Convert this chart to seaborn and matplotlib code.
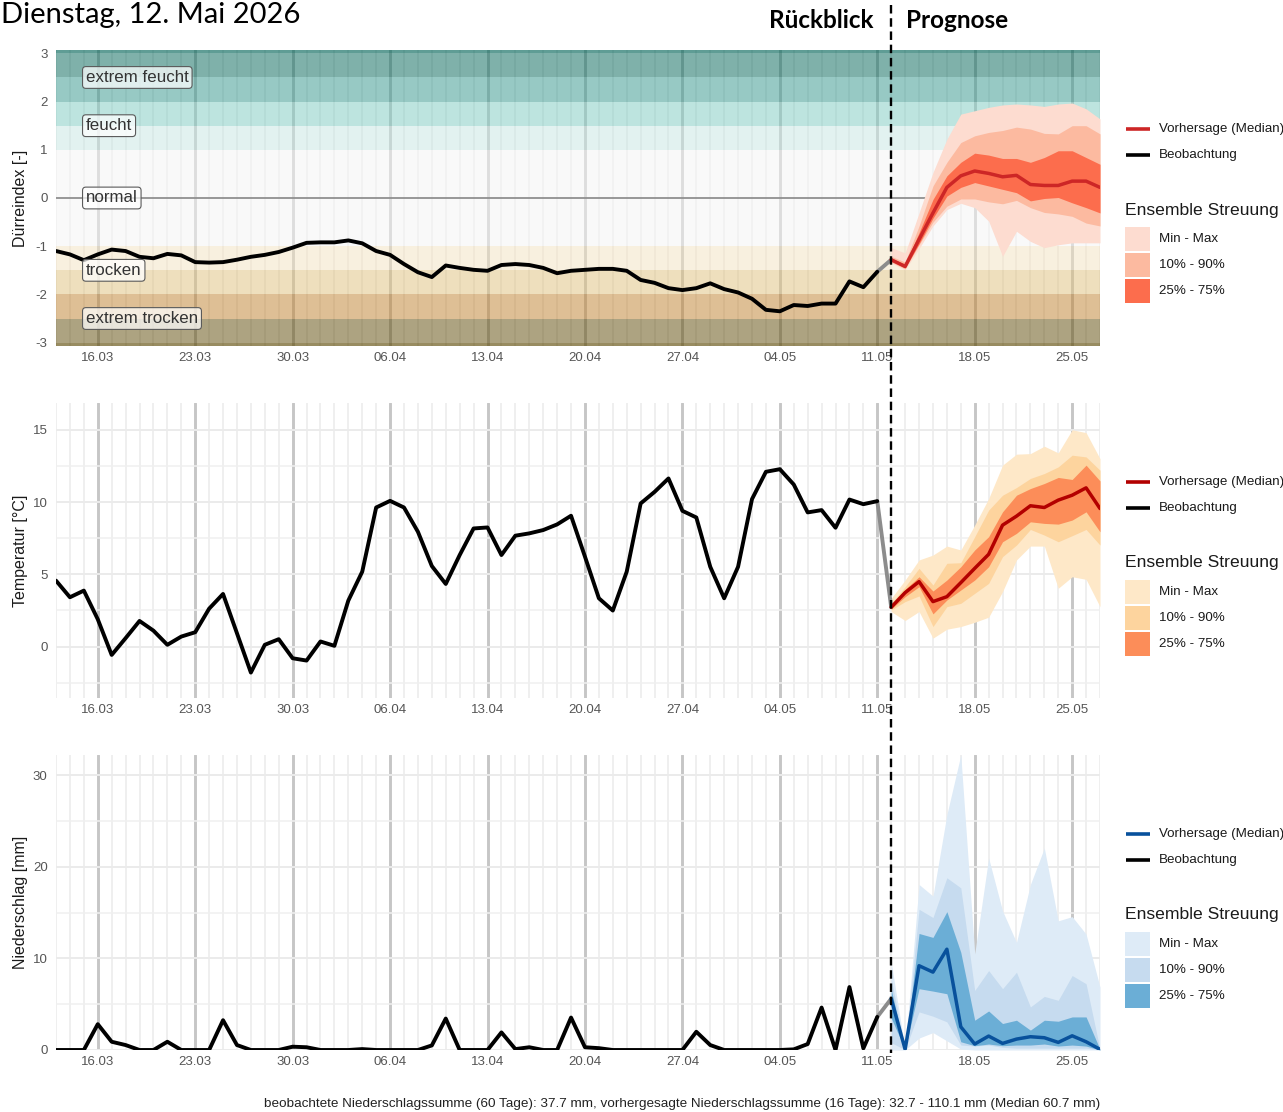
import numpy as np
import pandas as pd
import matplotlib
matplotlib.use("Agg")
import matplotlib.pyplot as plt
import matplotlib.dates as mdates
from matplotlib.lines import Line2D
from matplotlib.patches import Rectangle
import seaborn as sns

# ---------------- data ----------------
obs_dates = pd.date_range("2026-03-13", "2026-05-11", freq="D")
fc_dates = pd.date_range("2026-05-12", "2026-05-27", freq="D")
week_ticks = pd.date_range("2026-03-16", "2026-05-25", freq="7D")

drought_obs = [-1.10, -1.17, -1.29, -1.17, -1.07, -1.10, -1.22, -1.25, -1.16, -1.19,
               -1.33, -1.34, -1.33, -1.28, -1.22, -1.18, -1.12, -1.03, -0.93,
               -0.92, -0.92, -0.88, -0.94, -1.10, -1.18, -1.37, -1.54, -1.64, -1.40,
               -1.45, -1.49, -1.51, -1.39, -1.37, -1.39, -1.45, -1.56, -1.51, -1.49,
               -1.47, -1.47, -1.51, -1.70, -1.76, -1.87, -1.91, -1.87, -1.77, -1.89,
               -1.96, -2.09, -2.32, -2.35, -2.22, -2.24, -2.19, -2.19, -1.73, -1.85, -1.53]
drought_med = [-1.28, -1.42, -0.86, -0.31, 0.22, 0.46, 0.56, 0.51, 0.44, 0.47, 0.28, 0.26, 0.26, 0.35, 0.35, 0.22]
drought_min = [-1.35, -1.49, -1.05, -0.58, -0.24, -0.11, -0.20, -0.48, -1.21, -0.69, -0.90, -1.03, -0.97, -0.93, -0.93, -0.93]
drought_max = [-1.03, -1.14, -0.31, 0.53, 1.22, 1.74, 1.81, 1.88, 1.93, 1.95, 1.93, 1.90, 1.95, 1.97, 1.85, 1.64]
drought_q10 = [-1.33, -1.47, -0.97, -0.50, -0.17, -0.02, -0.02, -0.08, -0.12, -0.05, -0.20, -0.30, -0.33, -0.38, -0.52, -0.58]
drought_q90 = [-1.21, -1.33, -0.58, 0.25, 0.74, 1.15, 1.29, 1.36, 1.40, 1.47, 1.43, 1.34, 1.33, 1.50, 1.50, 1.33]
drought_q25 = [-1.31, -1.45, -0.95, -0.42, 0.04, 0.22, 0.32, 0.25, 0.18, 0.11, -0.06, -0.01, 0.01, -0.10, -0.20, -0.31]
drought_q75 = [-1.25, -1.37, -0.72, -0.03, 0.46, 0.74, 0.93, 0.89, 0.82, 0.82, 0.74, 0.84, 0.98, 0.98, 0.84, 0.70]

temp_obs = [4.56, 3.41, 3.87, 1.89, -0.58, 0.58, 1.77, 1.10, 0.12, 0.69, 0.99, 2.62, 3.64, 0.92,
            -1.80, 0.12, 0.51, -0.81, -0.97,
            0.35, 0.05, 3.18, 5.18, 9.62, 10.08, 9.62, 7.94, 5.57, 4.33, 6.33, 8.17, 8.24, 6.33,
            7.67, 7.83, 8.06, 8.45, 9.05, 6.22, 3.34, 2.49, 5.18, 9.90, 10.70, 11.63, 9.39, 8.93,
            5.52, 3.34,
            5.52, 10.20, 12.09, 12.27, 11.21, 9.28, 9.44, 8.22, 10.17, 9.85, 10.06]
temp_med = [2.72, 3.73, 4.49, 3.11, 3.45, 4.42, 5.41, 6.38, 8.40, 9.02, 9.74, 9.62, 10.13, 10.47, 10.98, 9.55]
temp_min = [2.42, 1.80, 2.42, 0.58, 1.20, 1.38, 1.68, 2.03, 3.80, 5.99, 6.95, 6.95, 4.03, 4.83, 4.65, 2.76]
temp_max = [3.34, 4.60, 5.99, 6.33, 6.95, 6.68, 8.40, 10.24, 12.55, 13.31, 13.35, 13.86, 13.40, 15.00, 14.80, 13.00]
temp_q10 = [2.53, 3.11, 3.50, 1.38, 2.76, 2.99, 3.68, 4.37, 6.22, 7.02, 8.10, 7.71, 7.25, 7.67, 8.10, 7.02]
temp_q90 = [2.99, 4.14, 5.41, 4.26, 5.76, 5.80, 7.60, 9.44, 10.47, 11.00, 11.63, 11.97, 12.43, 13.24, 13.12, 12.20]
temp_q25 = [2.60, 3.45, 4.14, 2.26, 3.22, 3.91, 4.60, 5.52, 7.25, 7.83, 8.63, 8.52, 8.47, 8.75, 9.32, 7.94]
temp_q75 = [2.85, 3.96, 4.83, 3.84, 4.60, 5.52, 6.68, 7.60, 9.32, 10.47, 10.93, 11.28, 11.70, 11.56, 12.55, 11.46]

prec_obs = [0, 0, 0, 2.82, 0.9, 0.54, 0, 0, 0.9, 0, 0, 0, 3.25, 0.54, 0, 0, 0, 0.36, 0.3,
            0, 0, 0, 0.1, 0, 0, 0, 0, 0.5, 3.43, 0, 0, 0, 1.92, 0.1, 0.3, 0, 0, 3.54, 0.3,
            0.2, 0, 0, 0, 0, 0, 0, 1.99, 0.54, 0,
            0, 0, 0, 0, 0.07, 0.65, 4.63, 0, 6.87, 0.18, 3.61]
prec_med = [5.6, 0.07, 9.2, 8.5, 11.0, 2.53, 0.65, 1.52, 0.72, 1.19, 1.45, 1.34, 0.83, 1.55, 0.9, 0.07]
prec_min = [0, 0, 1.3, 1.9, 1.0, 0.1, 0, 0, 0, 0, 0, 0, 0, 0, 0, 0]
prec_max = [9.6, 0.07, 18.07, 16.8, 25.7, 32.2, 10.5, 20.96, 15.18, 11.75, 18.07, 22.05, 14.1, 14.56, 12.65, 6.87]
prec_q10 = [0.8, 0.03, 4.16, 3.69, 3.07, 0.54, 0.43, 0.54, 0.29, 0.2, 0.2, 0.2, 0.2, 0.2, 0.2, 0.0]
prec_q90 = [7.8, 0.07, 15.36, 14.46, 18.8, 17.7, 6.5, 8.67, 6.69, 8.49, 4.7, 5.85, 5.42, 8.13, 7.23, 0.07]
prec_q25 = [3.5, 0.05, 6.69, 6.43, 6.14, 0.9, 0.47, 0.65, 0.47, 0.54, 0.54, 0.65, 0.43, 0.54, 0.43, 0.0]
prec_q75 = [6.6, 0.07, 12.72, 12.29, 15.1, 10.66, 3.25, 4.26, 2.89, 3.25, 2.17, 3.25, 3.14, 3.61, 3.61, 0.07]

band_edges = [-3, -2.5, -2, -1.5, -1, 1, 1.5, 2, 2.5, 3]
class_labels = ["extrem trocken", "trocken", "normal", "feucht", "extrem feucht"]
class_label_y = [-2.5, -1.5, 0, 1.5, 2.5]
spread_labels = ["Min - Max", "10% - 90%", "25% - 75%"]

title_text = "Dienstag, 12. Mai 2026"
footer_text = ("beobachtete Niederschlagssumme (60 Tage): 37.7 mm, vorhergesagte "
               "Niederschlagssumme (16 Tage): 32.7 - 110.1 mm (Median 60.7 mm)")

# ---------------- style ----------------
band_colors = ["#5d4905", "#bf812d", "#dfc17d", "#f3e3c1", "#f5f5f5",
               "#c7e7e3", "#7dcbc1", "#31958b", "#006557"]
sns.set_theme(style="white")
plt.rcParams["font.family"] = ["Liberation Sans", "DejaVu Sans"]
plt.rcParams["axes.unicode_minus"] = False

W, H = 1283, 1112
fig = plt.figure(figsize=(W / 100, H / 100), dpi=100)


def axes_px(left, top, right, bottom):
    return fig.add_axes([left / W, 1 - bottom / H, (right - left) / W, (bottom - top) / H])


ax1 = axes_px(56, 50, 1100, 346)
ax2 = axes_px(56, 403, 1100, 698)
ax3 = axes_px(56, 755, 1100, 1050)

xmin = mdates.date2num(obs_dates[0])
xmax = mdates.date2num(fc_dates[-1])
all_days = pd.date_range(obs_dates[0], fc_dates[-1], freq="D")


def base_axes(ax, ylim, major_y, minor_y, draw_hgrid=True):
    ax.set_xlim(xmin, xmax)
    ax.set_ylim(*ylim)
    ax.set_xticks(mdates.date2num(week_ticks))
    ax.set_xticks(mdates.date2num(all_days), minor=True)
    ax.xaxis.set_major_formatter(mdates.DateFormatter("%d.%m"))
    ax.set_yticks(major_y)
    ax.set_yticks(minor_y, minor=True)
    for s in ax.spines.values():
        s.set_visible(False)
    ax.set_axisbelow(True)
    ax.grid(which="minor", axis="x", color="#ebebeb", lw=1.1)
    ax.grid(which="major", axis="x", color="#c6c6c6", lw=2.1)
    if draw_hgrid:
        ax.grid(which="minor", axis="y", color="#f0f0f0", lw=1.1)
        ax.grid(which="major", axis="y", color="#ebebeb", lw=1.4)
    ax.tick_params(axis="both", which="both", length=0, labelsize=9.5, labelcolor="#555555")
    ax.tick_params(axis="x", pad=4)
    ax.tick_params(axis="y", pad=6)


def finish_labels(ax, ylabel):
    ax.set_xlabel("")
    ax.set_ylabel(ylabel, fontsize=11.5, color="#1a1a1a")
    ax.yaxis.set_label_coords(-0.027, 0.5)


def draw_series(ax, obs, med, mn, mx, q10, q90, q25, q75, fills, med_color):
    ax.fill_between(fc_dates, mn, mx, color=fills[0], lw=0, zorder=3)
    ax.fill_between(fc_dates, q10, q90, color=fills[1], lw=0, zorder=3)
    ax.fill_between(fc_dates, q25, q75, color=fills[2], lw=0, zorder=3)
    link = pd.DataFrame({"d": [obs_dates[-1], fc_dates[0]], "v": [obs[-1], med[0]]})
    sns.lineplot(data=link, x="d", y="v", ax=ax, color="#8c8c8c", lw=2.8,
                 estimator=None, sort=False, legend=False, zorder=4)
    sns.lineplot(x=obs_dates, y=obs, ax=ax, color="black", lw=2.8,
                 estimator=None, sort=False, legend=False, zorder=5)
    sns.lineplot(x=fc_dates, y=med, ax=ax, color=med_color, lw=2.5,
                 estimator=None, sort=False, legend=False, zorder=5)


# ---- panel 1: drought index ----
base_axes(ax1, (-3.07, 3.07), np.arange(-3, 4, 1), [], draw_hgrid=False)
ext = list(band_edges)
ext[0], ext[-1] = -3.07, 3.07
for lo, hi, c in zip(ext[:-1], ext[1:], band_colors):
    ax1.axhspan(lo, hi, color=c, alpha=0.5, lw=0, zorder=1)
ax1.axhspan(3.0, 3.07, color=band_colors[-1], alpha=0.25, lw=0, zorder=1)
ax1.axhspan(-3.07, -3.0, color=band_colors[0], alpha=0.25, lw=0, zorder=1)
ax1.axhline(0, color="#8f8f8f", lw=1.3, zorder=2)
for lab, yy in zip(class_labels, class_label_y):
    ax1.text(mdates.date2num(pd.Timestamp("2026-03-15")) + 0.15, yy, lab, ha="left", va="center",
             fontsize=12.2, color="#333333", zorder=6,
             bbox=dict(boxstyle="round,pad=0.2,rounding_size=0.2", fc=(1, 1, 1, 0.72),
                       ec="#5a5a5a", lw=0.8))
draw_series(ax1, drought_obs, drought_med, drought_min, drought_max, drought_q10, drought_q90,
            drought_q25, drought_q75, ["#fddcd0", "#fcbaa0", "#fc6d4d"], "#cd2626")
finish_labels(ax1, "Dürreindex [-]")

# ---- panel 2: temperature ----
base_axes(ax2, (-3.56, 16.85), [0, 5, 10, 15], [-2.5, 2.5, 7.5, 12.5])
draw_series(ax2, temp_obs, temp_med, temp_min, temp_max, temp_q10, temp_q90,
            temp_q25, temp_q75, ["#fee8c8", "#fdd49e", "#fc8d59"], "#b30000")
finish_labels(ax2, "Temperatur [°C]")

# ---- panel 3: precipitation ----
base_axes(ax3, (0, max(prec_max)), [0, 10, 20, 30], [5, 15, 25])
draw_series(ax3, prec_obs, prec_med, prec_min, prec_max, prec_q10, prec_q90,
            prec_q25, prec_q75, ["#deebf7", "#c6dbef", "#6baed6"], "#08519c")
finish_labels(ax3, "Niederschlag [mm]")

# ---- legends ----


def draw_legend(ax, med_color, fills):
    pos = ax.get_position()
    top_px = (1 - pos.y1) * H

    def fy(py):
        return 1 - (top_px + py) / H

    for py, col, lab in [(79, med_color, "Vorhersage (Median)"), (105, "black", "Beobachtung")]:
        fig.add_artist(Line2D([1126 / W, 1150 / W], [fy(py)] * 2, color=col, lw=2.6,
                              solid_capstyle="butt", transform=fig.transFigure))
        fig.text(1159 / W, fy(py), lab, va="center", ha="left", fontsize=9.6, color="#1a1a1a")
    fig.text(1125 / W, fy(160), "Ensemble Streuung", va="center", ha="left",
             fontsize=12.6, color="#1a1a1a")
    for i, (c, lab) in enumerate(zip(fills, spread_labels)):
        cy = 189 + 26 * i
        fig.add_artist(Rectangle((1125 / W, fy(cy + 12)), 25 / W, 24 / H, color=c, lw=0,
                                 transform=fig.transFigure))
        fig.text(1159 / W, fy(cy), lab, va="center", ha="left", fontsize=9.6, color="#1a1a1a")


draw_legend(ax1, "#cd2626", ["#fddcd0", "#fcbaa0", "#fc6d4d"])
draw_legend(ax2, "#b30000", ["#fee8c8", "#fdd49e", "#fc8d59"])
draw_legend(ax3, "#08519c", ["#deebf7", "#c6dbef", "#6baed6"])

# ---- dashed separator ----
fig.canvas.draw()
xd = ax1.transData.transform((mdates.date2num(fc_dates[0]), 0))[0] / (W)
fig.add_artist(Line2D([xd, xd], [1 - 5 / H, 1 - 1053 / H], color="black", lw=1.7,
                      linestyle=(0, (3.6, 2.0)), transform=fig.transFigure))

# ---- texts ----
head_font = ["Lato", "Noto Sans", "DejaVu Sans"]
fig.text(1 / W, 1 - 23 / H, title_text, ha="left", va="baseline", fontsize=21,
         family=head_font, color="black")
fig.text(xd - 18 / W, 1 - 28 / H, "Rückblick", ha="right", va="baseline", fontsize=17.5,
         weight="bold", family=head_font, color="black")
fig.text(xd + 15 / W, 1 - 28 / H, "Prognose", ha="left", va="baseline", fontsize=17.5,
         weight="bold", family=head_font, color="black")
fig.text(1100 / W, 1 - 1104 / H, footer_text, ha="right", va="center", fontsize=9.7,
         color="#222222")

fig.savefig("out.png", dpi=100)
